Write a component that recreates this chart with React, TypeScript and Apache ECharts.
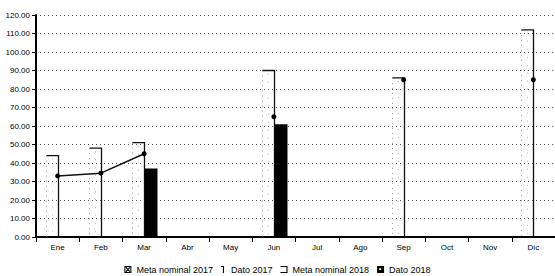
import React, { useEffect, useRef } from "react";
import * as echarts from "echarts";

const months = ["Ene", "Feb", "Mar", "Abr", "May", "Jun", "Jul", "Ago", "Sep", "Oct", "Nov", "Dic"];
const meta2017: (number | null)[] = [44, 48, 51, null, null, 90, null, null, 86, null, null, 112];
const dato2017: (number | null)[] = [33, 34.5, 45, null, null, 65, null, null, 85, null, null, 85];
const meta2018: (number | null)[] = [null, null, null, null, null, null, null, null, null, null, null, null];
const dato2018: (number | null)[] = [null, null, 37, null, null, 61, null, null, null, null, null, null];
const yMin = 0;
const yMax = 120;
const yStep = 10;

const FONT = "'Liberation Sans', Arial, sans-serif";

const iconMeta2017 =
  "path://M0 0H10V10H0ZM1.4 1.4V8.6H8.6V1.4ZM1.4 2.6L2.6 1.4L8.6 7.4L7.4 8.6ZM7.4 1.4L8.6 2.6L2.6 8.6L1.4 7.4Z";
const iconDato2017 = "path://M4.3 0H5.9V10H4.3ZM1.5 0H5.9V1.4H1.5Z";
const iconMeta2018 = "path://M0 0H10V10H0V8.5H8.5V1.5H0Z";
const iconDato2018 = "path://M0 0H10V10H0ZM3 3.2V5.8H5.6V3.2Z";

function toPairs(arr: (number | null)[]) {
  const out: number[][] = [];
  arr.forEach((v, i) => {
    if (v != null) out.push([i, v]);
  });
  return out;
}

export default function App() {
  const ref = useRef<HTMLDivElement>(null);
  useEffect(() => {
    if (!ref.current) return;
    const chart = echarts.init(ref.current, null, { renderer: "svg" });
    const barW = 12;
    chart.setOption({
      animation: false,
      backgroundColor: "#fff",
      textStyle: { fontFamily: FONT, color: "#000" },
      grid: { left: 36, top: 15, width: 521, height: 222 },
      legend: {
        left: "center",
        top: 260,
        itemWidth: 7,
        itemHeight: 7,
        itemGap: 8,
        textStyle: { fontSize: 9, color: "#000", fontFamily: FONT },
        data: [
          { name: "Meta nominal 2017", icon: iconMeta2017 },
          { name: "Dato 2017", icon: iconDato2017 },
          { name: "Meta nominal 2018", icon: iconMeta2018 },
          { name: "Dato 2018", icon: iconDato2018 },
        ],
      },
      xAxis: {
        type: "category",
        data: months,
        boundaryGap: true,
        axisLine: { show: true, lineStyle: { color: "#000", width: 2 } },
        axisTick: { show: true, length: 5, lineStyle: { color: "#000", width: 1 } },
        axisLabel: { fontSize: 8, color: "#000", margin: 6, fontFamily: FONT },
        splitLine: { show: false },
      },
      yAxis: {
        type: "value",
        min: yMin,
        max: yMax,
        interval: yStep,
        axisLine: { show: true, lineStyle: { color: "#000", width: 2 } },
        axisTick: { show: true, length: 4, lineStyle: { color: "#000" } },
        axisLabel: {
          fontSize: 8,
          color: "#000",
          margin: 6,
          fontFamily: FONT,
          formatter: (v: number) => v.toFixed(2),
        },
        splitLine: { show: true, lineStyle: { color: "#555", width: 1, type: [1, 3] } },
      },
      series: [
        {
          name: "Meta nominal 2017",
          type: "custom",
          itemStyle: { color: "#000" },
          encode: { x: 0, y: 1 },
          data: toPairs(meta2017),
          z: 2,
          renderItem: (params: any, api: any) => {
            const i = api.value(0);
            const v = api.value(1);
            const top = api.coord([i, v]);
            const base = api.coord([i, 0]);
            const x1 = Math.round(top[0]) + 0.5;
            const x0 = x1 - barW;
            return {
              type: "group",
              children: [
                {
                  type: "line",
                  shape: { x1: x0, y1: top[1], x2: x0, y2: base[1] },
                  style: { stroke: "#999", lineWidth: 1, lineDash: [1, 4] },
                },
                {
                  type: "line",
                  shape: { x1: x0 + 6, y1: top[1] + 3, x2: x0 + 6, y2: base[1] },
                  style: { stroke: "#bbb", lineWidth: 1, lineDash: [1, 7] },
                },
                {
                  type: "polyline",
                  shape: { points: [[x0, top[1]], [x1, top[1]], [x1, base[1]]] },
                  style: { stroke: "#111", lineWidth: 1.3, fill: null },
                },
              ],
            };
          },
        },
        {
          name: "Dato 2018",
          type: "custom",
          itemStyle: { color: "#000" },
          encode: { x: 0, y: 1 },
          data: toPairs(dato2018),
          z: 3,
          renderItem: (params: any, api: any) => {
            const i = api.value(0);
            const v = api.value(1);
            const top = api.coord([i, v]);
            const base = api.coord([i, 0]);
            const x0 = Math.round(top[0]) + 0.5;
            return {
              type: "rect",
              shape: { x: x0, y: top[1], width: 13, height: base[1] - top[1] },
              style: { fill: "#000" },
            };
          },
        },
        {
          name: "Meta nominal 2018",
          type: "line",
          data: meta2018,
          itemStyle: { color: "#000" },
          lineStyle: { color: "#000" },
          showSymbol: false,
        },
        {
          name: "Dato 2017",
          type: "line",
          data: dato2017,
          connectNulls: false,
          symbol: "circle",
          symbolSize: 5,
          showAllSymbol: true,
          itemStyle: { color: "#000" },
          lineStyle: { color: "#111", width: 1.5 },
          z: 5,
        },
      ],
    });
    return () => chart.dispose();
  }, []);
  return (
    <div
      ref={ref}
      style={{ position: "absolute", left: 0, top: 0, width: 555, height: 276, background: "#fff" }}
    />
  );
}
